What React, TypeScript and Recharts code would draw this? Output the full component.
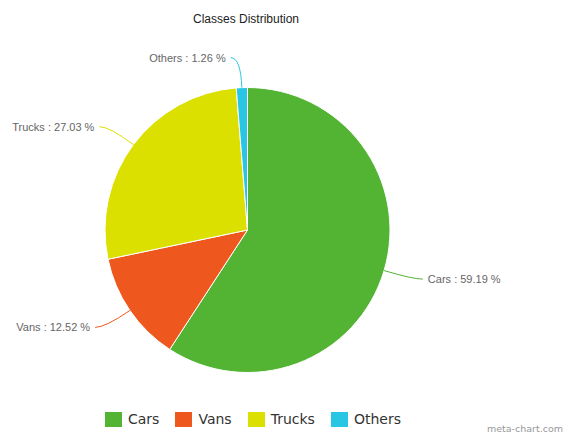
import { PieChart, Pie, Cell } from 'recharts';

const categories = ['Cars', 'Vans', 'Trucks', 'Others'];
const shares = [59.19, 12.52, 27.03, 1.26];
const colors = ['#53b434', '#ee581f', '#dce000', '#29c6e4'];

const data = categories.map((name, i) => ({ name, value: shares[i] }));

const RAD = Math.PI / 180;

function renderLabel(props: any) {
  const { cx, cy, midAngle, outerRadius, index } = props;
  const cos = Math.cos(-midAngle * RAD);
  const sin = Math.sin(-midAngle * RAD);
  const ex = cx + outerRadius * cos;
  const ey = cy + outerRadius * sin;
  const ax = cx + (outerRadius + 30) * cos;
  const ay = cy + (outerRadius + 30) * sin;
  const right = cos >= 0;
  const sign = right ? 1 : -1;
  const endX = ax + sign * 10;
  const tx = ax + sign * 15;
  const color = colors[index];
  return (
    <g>
      <path
        d={`M${ex},${ey} Q${ax},${ay} ${endX},${ay}`}
        stroke={color}
        strokeWidth={1}
        fill="none"
      />
      <text
        x={tx}
        y={ay}
        textAnchor={right ? 'start' : 'end'}
        dominantBaseline="central"
        fill="#666"
        fontSize={11}
        fontFamily="'Liberation Sans', Arial, sans-serif"
      >
        {`${data[index].name} : ${shares[index].toFixed(2)} %`}
      </text>
    </g>
  );
}

export default function App() {
  return (
    <div style={{ position: 'absolute', left: 0, top: 0, width: 565, height: 434, background: '#fff' }}>
      <PieChart width={565} height={434} margin={{ top: 0, right: 0, bottom: 0, left: 0 }}>
        <text
          x={246}
          y={19}
          textAnchor="middle"
          dominantBaseline="central"
          fontSize={12}
          fill="#222"
          fontFamily="'Liberation Sans', Arial, sans-serif"
        >
          Classes Distribution
        </text>
        <Pie
          data={data}
          dataKey="value"
          nameKey="name"
          cx={247.5}
          cy={230}
          outerRadius={142.5}
          startAngle={90}
          endAngle={-270}
          stroke="#fff"
          strokeWidth={1}
          label={renderLabel}
          labelLine={false}
          isAnimationActive={false}
        >
          {data.map((d, i) => (
            <Cell key={d.name} fill={colors[i]} />
          ))}
        </Pie>
      </PieChart>
      <div
        style={{
          position: 'absolute',
          top: 411,
          left: 105,
          display: 'flex',
          alignItems: 'center',
          fontFamily: "'DejaVu Sans', sans-serif",
          fontSize: 14,
          color: '#333',
        }}
      >
        {categories.map((c, i) => (
          <div key={c} style={{ display: 'flex', alignItems: 'center', marginRight: 16 }}>
            <span style={{ display: 'inline-block', width: 17, height: 15, background: colors[i], marginRight: 6 }} />
            <span>{c}</span>
          </div>
        ))}
      </div>
      <div
        style={{
          position: 'absolute',
          right: 2,
          top: 423,
          fontFamily: "'DejaVu Sans', sans-serif",
          fontSize: 9.5,
          color: '#999',
        }}
      >
        meta-chart.com
      </div>
    </div>
  );
}
